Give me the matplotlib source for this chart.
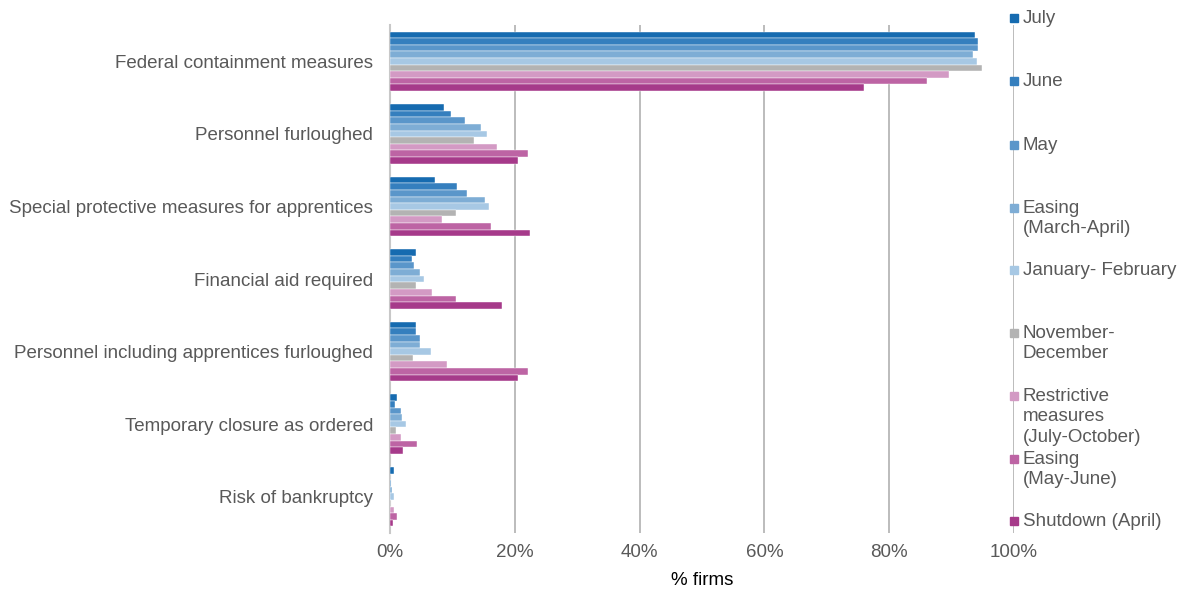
import matplotlib
matplotlib.use("Agg")
import matplotlib.pyplot as plt
import numpy as np

categories = [
    "Federal containment measures",
    "Personnel furloughed",
    "Special protective measures for apprentices",
    "Financial aid required",
    "Personnel including apprentices furloughed",
    "Temporary closure as ordered",
    "Risk of bankruptcy",
]

series_names = [
    "July",
    "June",
    "May",
    "Easing\n(March-April)",
    "January- February",
    "November-\nDecember",
    "Restrictive\nmeasures\n(July-October)",
    "Easing\n(May-June)",
    "Shutdown (April)",
]

july = [93.7, 8.7, 7.2, 4.1, 4.1, 1.2, 0.6]
june = [94.3, 9.8, 10.8, 3.5, 4.1, 0.8, 0.0]
may = [94.2, 12.0, 12.4, 3.9, 4.8, 1.7, 0.1]
easing_mar_apr = [93.4, 14.6, 15.2, 4.8, 4.8, 2.0, 0.4]
jan_feb = [94.0, 15.5, 15.9, 5.4, 6.5, 2.6, 0.6]
nov_dec = [94.8, 13.4, 10.5, 4.2, 3.7, 1.0, 0.2]
restrictive = [89.6, 17.2, 8.3, 6.8, 9.1, 1.7, 0.7]
easing_may_jun = [86.0, 22.1, 16.2, 10.5, 22.1, 4.3, 1.1]
shutdown = [75.9, 20.5, 22.5, 18.0, 20.5, 2.1, 0.5]

series_values = [july, june, may, easing_mar_apr, jan_feb, nov_dec,
                 restrictive, easing_may_jun, shutdown]

colors = ["#166bb0", "#357fbe", "#5a96ca", "#7eadd5", "#a7c8e4",
          "#b3b3b3", "#d39ac4", "#bd64a4", "#a63a8a"]

xticks = [0, 20, 40, 60, 80, 100]
xticklabels = ["0%", "20%", "40%", "60%", "80%", "100%"]

plt.rcParams['font.family'] = ['Liberation Sans', 'DejaVu Sans']
text_color = "#595959"
fs = 13.5

fig = plt.figure(figsize=(11.77, 5.89), dpi=100)
ax = fig.add_axes([390/1177, 1-533/589, (1014-390)/1177, (533-25)/589])

n_cat = len(categories)
n_ser = len(series_values)
group_h = 0.82
bar_h = group_h / n_ser
y_centers = np.arange(n_cat)

for i, (vals, col) in enumerate(zip(series_values, colors)):
    offs = -group_h/2 + bar_h*(i + 0.5)
    ax.barh(y_centers + offs, vals, height=bar_h, color=col,
            edgecolor="white", linewidth=0.3, zorder=3)

ax.set_ylim(n_cat - 0.5, -0.5)
ax.set_xlim(0, 100)
ax.set_yticks(y_centers)
ax.set_yticklabels(categories, fontsize=fs, color=text_color)
ax.set_xticks(xticks)
ax.set_xticklabels(xticklabels, fontsize=fs, color=text_color)
ax.tick_params(axis='y', length=0, pad=12)
ax.tick_params(axis='x', length=0, pad=8)
ax.grid(axis='x', color="#b0b0b0", linewidth=1.2, zorder=0)
for s in ["top", "right", "bottom"]:
    ax.spines[s].set_visible(False)
ax.spines["left"].set_color("#c8c8c8")
ax.spines["left"].set_linewidth(1.5)
ax.set_xlabel("% firms", fontsize=fs, color="#000000", labelpad=8)

# legend drawn along the 100% gridline
legend_y = [18, 81, 145, 208, 270, 333, 396, 459, 521]
for name, col, ypix in zip(series_names, colors, legend_y):
    yf = 1 - ypix/589
    fig.patches.append(plt.Rectangle((1010/1177, yf - 4/589), 8/1177, 8/589,
                                     transform=fig.transFigure, color=col,
                                     zorder=5))
    fig.text(1023/1177, yf + 8/589, name, fontsize=fs, color=text_color,
             va="top", ha="left", linespacing=1.25)

fig.savefig("out.png", dpi=100)
